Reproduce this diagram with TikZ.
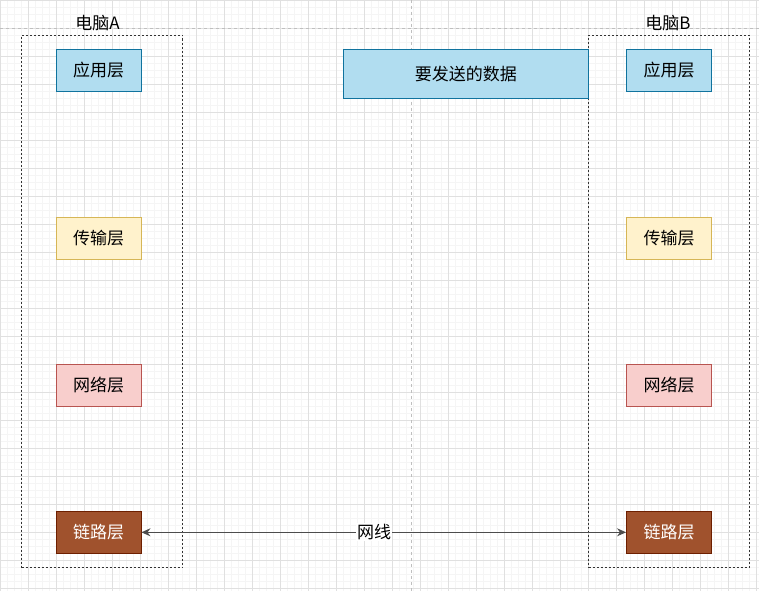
\documentclass[tikz,border=0pt]{standalone}
\usepackage{fontspec}
\newfontfamily\cjk{Noto Sans CJK SC}
\usetikzlibrary{arrows.meta}
\definecolor{appfill}{HTML}{B1DDF0}
\definecolor{appline}{HTML}{10739E}
\definecolor{tranfill}{HTML}{FFF2CC}
\definecolor{tranline}{HTML}{D6B656}
\definecolor{netfill}{HTML}{F8CECC}
\definecolor{netline}{HTML}{B85450}
\definecolor{linkfill}{HTML}{A0522D}
\definecolor{linkline}{HTML}{6D1F00}
\tikzset{
  minorgrid/.style={draw=black!4, line width=0.6pt},
  majorgrid/.style={draw=black!12, line width=0.8pt},
  guide/.style={draw=black!25, line width=0.7pt, dash pattern=on 3pt off 3pt},
  pcbox/.style={draw=black!80, line width=0.8pt, dash pattern=on 2pt off 2pt, inner sep=0pt},
  pcname/.style={font=\cjk\fontsize{17}{20}\selectfont, inner sep=0pt},
  layer/.style={draw, line width=0.9pt, minimum width=85pt, minimum height=42pt,
    inner sep=0pt, font=\cjk\fontsize{17}{20}\selectfont},
  app/.style={fill=appfill, draw=appline},
  tran/.style={fill=tranfill, draw=tranline},
  net/.style={fill=netfill, draw=netline},
  link/.style={fill=linkfill, draw=linkline, text=white},
  wire/.style={draw=black!70, line width=1.1pt,
    {Stealth[length=9pt,width=8pt]}-{Stealth[length=9pt,width=8pt]}},
  wirelabel/.style={fill=white, inner sep=1pt, font=\cjk\fontsize{17}{20}\selectfont}
}
\begin{document}
\begin{tikzpicture}[x=1pt,y=-1pt]
  \useasboundingbox (0,0) rectangle (759,591);
  \fill[white] (0,0) rectangle (759,591);

  % background grid
  \foreach \g in {0,7,...,756} \draw[minorgrid] (\g,0) -- (\g,591);
  \foreach \g in {0,7,...,588} \draw[minorgrid] (0,\g) -- (759,\g);
  \foreach \g in {0,28,...,756} \draw[majorgrid] (\g,0) -- (\g,591);
  \foreach \g in {0,28,...,588} \draw[majorgrid] (0,\g) -- (759,\g);
  \draw[guide] (411.5,0) -- (411.5,591);
  \draw[guide] (0,28.5) -- (759,28.5);

  % computers
  \node[pcbox, minimum width=161pt, minimum height=532pt] (pcA) at (102,301.5) {};
  \node[pcname] (pcAname) at (97.5,23.5) {电脑A};
  \node[pcbox, minimum width=160.5pt, minimum height=532pt] (pcB) at (668.75,301.5) {};
  \node[pcname] (pcBname) at (668,23.5) {电脑B};

  % layers of A
  \node[layer, app]  (appA)  at (98.5,70)    {应用层};
  \node[layer, tran] (tranA) at (98.5,238.5) {传输层};
  \node[layer, net]  (netA)  at (98.5,385.5) {网络层};
  \node[layer, link] (linkA) at (98.5,532.3) {链路层};

  % layers of B
  \node[layer, app]  (appB)  at (669,70)    {应用层};
  \node[layer, tran] (tranB) at (669,238.5) {传输层};
  \node[layer, net]  (netB)  at (669,385.5) {网络层};
  \node[layer, link] (linkB) at (669,532.3) {链路层};

  % data
  \node[layer, app, minimum width=245pt, minimum height=49pt] (data) at (465.8,74) {要发送的数据};

  % cable
  \draw[wire] (linkA) -- node[wirelabel, pos=0.48] (wireText) {网线} (linkB);
\end{tikzpicture}
\end{document}
